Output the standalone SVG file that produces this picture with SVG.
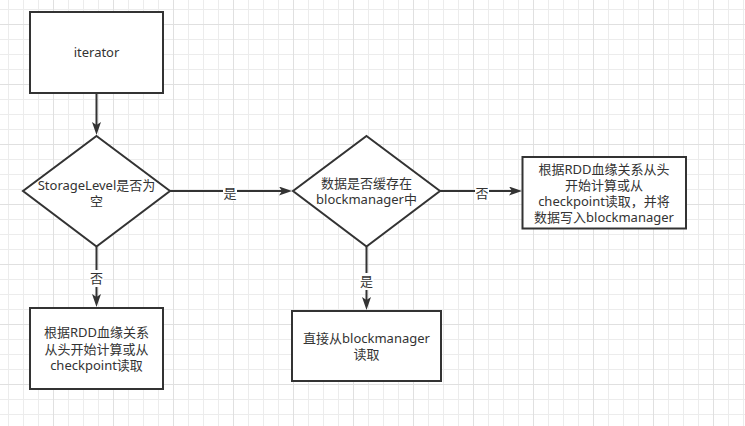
<svg xmlns="http://www.w3.org/2000/svg" width="745" height="426" viewBox="0 0 745 426">
<defs>
<pattern id="grid" x="53" y="24" width="60" height="60" patternUnits="userSpaceOnUse">
<path d="M15.5,0V60M30.5,0V60M45.5,0V60M0,15.5H60M0,30.5H60M0,45.5H60" stroke="#ececec" stroke-width="1" fill="none"/>
<path d="M0.5,0V60M0,0.5H60" stroke="#e0e0e0" stroke-width="1" fill="none"/>
</pattern>
<marker id="arr" markerUnits="userSpaceOnUse" markerWidth="14" markerHeight="10" refX="3" refY="4.5" orient="auto">
<path d="M0,0 L13,4.5 L0,9 L3,4.5 Z" fill="#333333"/>
</marker>
</defs>
<style>
.shape{fill:#ffffff;stroke:#333333;stroke-width:2}
.edge{fill:none;stroke:#333333;stroke-width:2;marker-end:url(#arr)}
.lbg{fill:#ffffff}
text{font-family:"Noto Sans","Noto Sans CJK SC",sans-serif;font-size:13px;fill:#333333;text-anchor:middle}
</style>
<rect width="745" height="426" fill="#ffffff"/>
<rect width="745" height="426" fill="url(#grid)"/>

<g id="connectors">
<path class="edge" d="M96.5,93 V125"/>
<path class="edge" d="M170,191 H282"/>
<path class="edge" d="M440,191 H512"/>
<path class="edge" d="M96.5,247 V297"/>
<path class="edge" d="M366.5,247 V300"/>
<rect class="lbg" x="223" y="184" width="14" height="17"/>
<text x="230" y="197.5">是</text>
<rect class="lbg" x="475" y="184" width="14" height="17"/>
<text x="482" y="197.5">否</text>
<rect class="lbg" x="89.5" y="270" width="14" height="17"/>
<text x="96.5" y="283">否</text>
<rect class="lbg" x="359.5" y="273" width="14" height="17"/>
<text x="366.5" y="286">是</text>
</g>

<g id="iterator">
<rect class="shape" x="30" y="12" width="133" height="81"/>
<text x="96.5" y="57">iterator</text>
</g>

<g id="storage-level">
<path class="shape" d="M96.5,136 L170,191 L96.5,246.5 L23,191 Z"/>
<text x="96.5" y="190">StorageLevel是否为</text>
<text x="96.5" y="206">空</text>
</g>

<g id="cached">
<path class="shape" d="M366.5,136 L440,191 L366.5,246.5 L293,191 Z"/>
<text x="366.5" y="188">数据是否缓存在</text>
<text x="366.5" y="204">blockmanager中</text>
</g>

<g id="compute-write">
<rect class="shape" x="522.5" y="157" width="163.5" height="71.5"/>
<text x="604" y="173.5">根据RDD血缘关系从头</text>
<text x="604" y="189.5">开始计算或从</text>
<text x="604" y="205.5">checkpoint读取，并将</text>
<text x="604" y="221.5">数据写入blockmanager</text>
</g>

<g id="compute">
<rect class="shape" x="30" y="308" width="133" height="81"/>
<text x="96.5" y="337">根据RDD血缘关系</text>
<text x="96.5" y="353.5">从头开始计算或从</text>
<text x="96.5" y="370">checkpoint读取</text>
</g>

<g id="read-direct">
<rect class="shape" x="292" y="311" width="149" height="70"/>
<text x="366.5" y="343">直接从blockmanager</text>
<text x="366.5" y="359">读取</text>
</g>
</svg>
